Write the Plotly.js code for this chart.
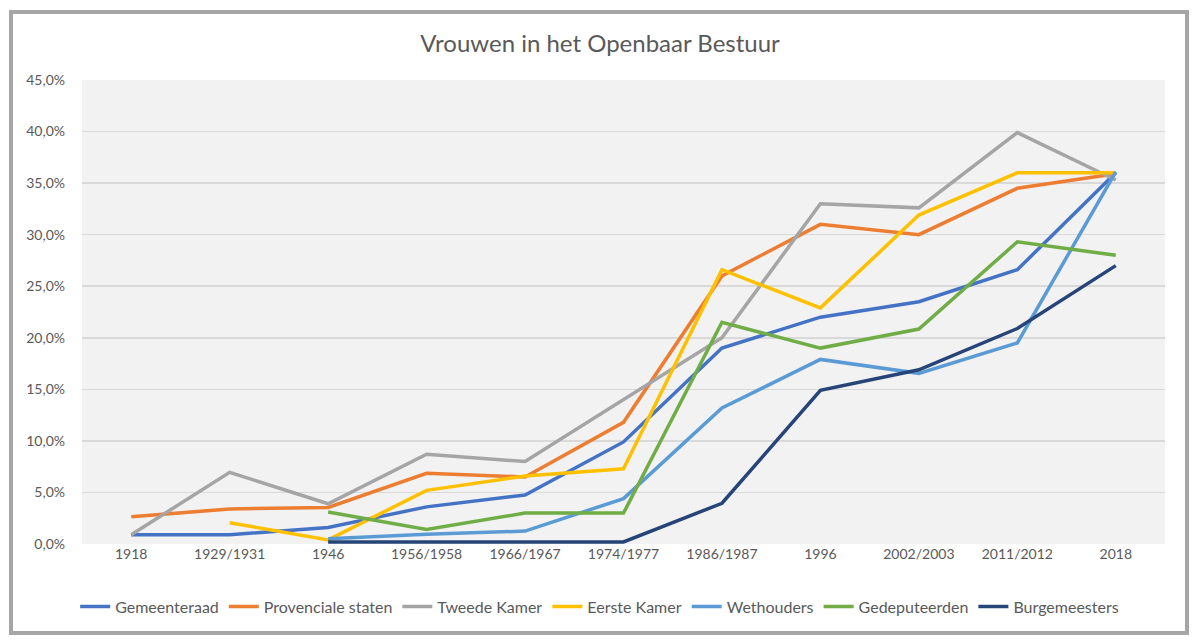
<!DOCTYPE html>
<html>
<head>
<meta charset="utf-8">
<script src="https://cdn.plot.ly/plotly-3.0.1.min.js"></script>
<style>
  html, body { margin: 0; padding: 0; background: #ffffff; }
  #wrap { position: relative; width: 1200px; height: 640px; }
  #chart { position: absolute; left: 0; top: 0; width: 1200px; height: 640px; }
  #frame { position: absolute; left: 9px; top: 10px; width: 1172px; height: 617px;
           border: 4px solid #a6a6a6; pointer-events: none; }
</style>
</head>
<body>
<div id="wrap">
  <div id="chart"></div>
  <div id="frame"></div>
</div>
<script>
const categories = ["1918", "1929/1931", "1946", "1956/1958", "1966/1967", "1974/1977", "1986/1987", "1996", "2002/2003", "2011/2012", "2018"];

const gemeenteraad   = [0.9, 0.9, 1.6, 3.6, 4.75, 9.9, 19.0, 22.0, 23.5, 26.6, 36.0];
const provinciale    = [2.65, 3.4, 3.55, 6.85, 6.5, 11.8, 26.0, 31.0, 30.0, 34.5, 35.9];
const tweedeKamer    = [0.9, 6.95, 3.9, 8.7, 8.0, 14.0, 20.0, 33.0, 32.6, 39.9, 35.3];
const eersteKamer    = [null, 2.07, 0.4, 5.2, 6.6, 7.3, 26.6, 22.9, 31.9, 36.0, 36.0];
const wethouders     = [null, null, 0.5, 0.95, 1.25, 4.4, 13.2, 17.9, 16.55, 19.5, 36.1];
const gedeputeerden  = [null, null, 3.1, 1.4, 3.0, 3.0, 21.5, 19.0, 20.85, 29.3, 28.0];
const burgemeesters  = [null, null, 0.2, 0.2, 0.2, 0.2, 3.95, 14.9, 16.9, 20.9, 27.0];

const seriesNames  = ["Gemeenteraad", "Provenciale staten", "Tweede Kamer", "Eerste Kamer", "Wethouders", "Gedeputeerden", "Burgemeesters"];
const seriesValues = [gemeenteraad, provinciale, tweedeKamer, eersteKamer, wethouders, gedeputeerden, burgemeesters];
const seriesColors = ["#4472c4", "#ed7d31", "#a5a5a5", "#ffc000", "#5b9bd5", "#70ad47", "#264478"];

const yTicks = [0, 5, 10, 15, 20, 25, 30, 35, 40, 45];
const yTickText = yTicks.map(v => v.toFixed(1).replace(".", ",") + "%");

const traces = seriesNames.map((name, i) => ({
  type: "scatter",
  mode: "lines",
  name: name,
  x: categories,
  y: seriesValues[i],
  connectgaps: false,
  line: { color: seriesColors[i], width: 3.5 },
  hoverinfo: "skip"
}));

const fontFamily = "Lato, 'Liberation Sans', sans-serif";

const layout = {
  width: 1200,
  height: 640,
  paper_bgcolor: "#ffffff",
  plot_bgcolor: "#f2f2f2",
  separators: ",.",
  margin: { l: 82, r: 35, t: 80, b: 96 },
  font: { family: fontFamily, size: 14, color: "#595959" },
  title: {
    text: "Vrouwen in het Openbaar Bestuur",
    font: { family: fontFamily, size: 24, color: "#595959" },
    x: 0.5, xanchor: "center",
    y: 1 - 44 / 640, yanchor: "middle"
  },
  xaxis: {
    type: "category",
    range: [-0.5, categories.length - 0.5],
    showgrid: false,
    zeroline: false,
    showline: false,
    ticks: "",
    tickfont: { family: fontFamily, size: 14, color: "#595959" },
    fixedrange: true
  },
  yaxis: {
    range: [0, 45],
    tickmode: "array",
    tickvals: yTicks,
    ticktext: yTickText,
    showgrid: true,
    gridcolor: "#d9d9d9",
    gridwidth: 1.5,
    zeroline: false,
    showline: false,
    ticks: "",
    ticklabelstandoff: 16,
    tickfont: { family: fontFamily, size: 14, color: "#595959" },
    fixedrange: true
  },
  showlegend: true,
  legend: {
    orientation: "h",
    x: 0.478, xanchor: "center",
    y: -0.135, yanchor: "middle",
    font: { family: fontFamily, size: 16, color: "#595959" },
    itemwidth: 30,
    tracegroupgap: 0,
    bgcolor: "rgba(0,0,0,0)"
  },
  hovermode: false
};

Plotly.newPlot("chart", traces, layout, { displayModeBar: false, staticPlot: true });
</script>
</body>
</html>
